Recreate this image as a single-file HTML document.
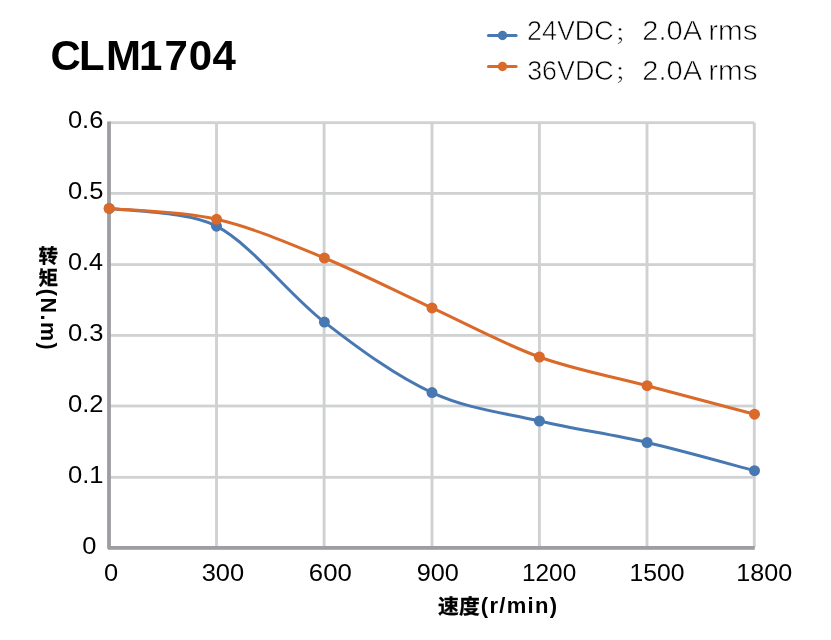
<!DOCTYPE html>
<html><head><meta charset="utf-8"><title>CLM1704</title>
<style>
html,body{margin:0;padding:0;background:#fff;}
svg{display:block;}
text{font-family:"Liberation Sans","Noto Sans CJK SC",sans-serif;fill:#000;}
.b{font-weight:bold;}
.lg2{stroke:#fff;stroke-width:0.3px;}
.cj{stroke:#000;stroke-width:0.3px;}
.lg{stroke:#fff;stroke-width:0.65px;}
</style></head>
<body>
<svg width="831" height="640" viewBox="0 0 831 640">
<rect width="831" height="640" fill="#fff"/>
<rect x="109" y="121.30" width="645.10" height="2.8" fill="#d0d1d2"/>
<rect x="109" y="192.00" width="645.10" height="2.8" fill="#d0d1d2"/>
<rect x="109" y="263.20" width="645.10" height="2.8" fill="#d0d1d2"/>
<rect x="109" y="334.00" width="645.10" height="2.8" fill="#d0d1d2"/>
<rect x="109" y="404.60" width="645.10" height="2.8" fill="#d0d1d2"/>
<rect x="109" y="475.90" width="645.10" height="2.8" fill="#d0d1d2"/>
<rect x="215.05" y="122.6" width="2.9" height="424.7" fill="#d0d1d2"/>
<rect x="322.65" y="122.6" width="2.9" height="424.7" fill="#d0d1d2"/>
<rect x="430.55" y="122.6" width="2.9" height="424.7" fill="#d0d1d2"/>
<rect x="537.95" y="122.6" width="2.9" height="424.7" fill="#d0d1d2"/>
<rect x="645.55" y="122.6" width="2.9" height="424.7" fill="#d0d1d2"/>
<rect x="752.85" y="122.6" width="2.9" height="424.7" fill="#d0d1d2"/>
<rect x="107.1" y="121.5" width="3.8" height="427.3" fill="#9c9ea1"/>
<rect x="108" y="546" width="646.8" height="3.8" fill="#9c9ea1"/>
<path d="M109.20 208.40 C145.00 211.80 192.00 213.20 216.50 226.20 C252.37 245.15 288.48 294.37 324.40 322.10 C360.32 349.83 396.17 376.12 432.00 392.60 C467.83 409.08 503.55 412.68 539.40 421.00 C575.25 429.32 611.25 434.22 647.10 442.50 C682.95 450.78 736.60 466.00 754.50 470.70" fill="none" stroke="#4878b2" stroke-width="3" stroke-linecap="round"/>
<circle cx="109.2" cy="208.4" r="5.5" fill="#4878b2"/>
<circle cx="216.5" cy="226.2" r="5.5" fill="#4878b2"/>
<circle cx="324.4" cy="322.1" r="5.5" fill="#4878b2"/>
<circle cx="432.0" cy="392.6" r="5.5" fill="#4878b2"/>
<circle cx="539.4" cy="421.0" r="5.5" fill="#4878b2"/>
<circle cx="647.1" cy="442.5" r="5.5" fill="#4878b2"/>
<circle cx="754.5" cy="470.7" r="5.5" fill="#4878b2"/>
<path d="M109.20 208.40 C127.10 210.22 180.73 211.03 216.60 219.30 C252.47 227.57 288.50 243.23 324.40 258.00 C360.30 272.77 396.17 291.40 432.00 307.90 C467.83 324.40 503.55 344.03 539.40 357.00 C575.25 369.97 611.25 376.17 647.10 385.70 C682.95 395.23 736.60 409.45 754.50 414.20" fill="none" stroke="#d96a2a" stroke-width="3" stroke-linecap="round"/>
<circle cx="109.2" cy="208.4" r="5.5" fill="#d96a2a"/>
<circle cx="216.6" cy="219.3" r="5.5" fill="#d96a2a"/>
<circle cx="324.4" cy="258.0" r="5.5" fill="#d96a2a"/>
<circle cx="432.0" cy="307.9" r="5.5" fill="#d96a2a"/>
<circle cx="539.4" cy="357.0" r="5.5" fill="#d96a2a"/>
<circle cx="647.1" cy="385.7" r="5.5" fill="#d96a2a"/>
<circle cx="754.5" cy="414.2" r="5.5" fill="#d96a2a"/>
<line x1="488.5" y1="35.5" x2="516.1" y2="35.5" stroke="#4878b2" stroke-width="3.1" stroke-linecap="round"/>
<circle cx="502.5" cy="35.5" r="4.7" fill="#4878b2"/>
<line x1="488.5" y1="66.5" x2="516.1" y2="66.5" stroke="#d96a2a" stroke-width="3.1" stroke-linecap="round"/>
<circle cx="502.5" cy="66.5" r="4.7" fill="#d96a2a"/>
<text class="b" font-size="42" x="50.5 79 106.1 139 164.6 188.7 212.5" y="69.6">CLM1704</text>
<text class="lg" y="40.10" font-size="28.5"><tspan x="527.04" textLength="86.66" lengthAdjust="spacingAndGlyphs">24VDC</tspan><tspan x="613.89" dy="0.5" font-size="20" textLength="25.14" lengthAdjust="spacingAndGlyphs">；</tspan> <tspan x="642.37" dy="-0.5" textLength="58.13" lengthAdjust="spacingAndGlyphs">2.0A</tspan> <tspan x="708.22" textLength="49.49" lengthAdjust="spacingAndGlyphs">rms</tspan></text>
<text class="lg" y="79.90" font-size="28.5"><tspan x="527.15" textLength="86.55" lengthAdjust="spacingAndGlyphs">36VDC</tspan><tspan x="613.89" dy="0.5" font-size="20" textLength="25.14" lengthAdjust="spacingAndGlyphs">；</tspan> <tspan x="642.37" dy="-0.5" textLength="58.13" lengthAdjust="spacingAndGlyphs">2.0A</tspan> <tspan x="708.22" textLength="49.49" lengthAdjust="spacingAndGlyphs">rms</tspan></text>
<text transform="translate(67.89 127.90) scale(1.1112 1)" font-size="23">0.6</text>
<text transform="translate(67.89 198.70) scale(1.1100 1)" font-size="23">0.5</text>
<text transform="translate(67.90 270.00) scale(1.0964 1)" font-size="23">0.4</text>
<text transform="translate(67.89 340.90) scale(1.1123 1)" font-size="23">0.3</text>
<text transform="translate(67.89 411.60) scale(1.1148 1)" font-size="23">0.2</text>
<text transform="translate(67.89 482.80) scale(1.1135 1)" font-size="23">0.1</text>
<text transform="translate(82.29 553.90) scale(1.1075 1)" font-size="23">0</text>
<text transform="translate(103.89 580.60) scale(1.1075 1)" font-size="23">0</text>
<text transform="translate(201.70 580.60) scale(1.1083 1)" font-size="23">300</text>
<text transform="translate(308.81 580.60) scale(1.1213 1)" font-size="23">600</text>
<text transform="translate(416.75 580.60) scale(1.0990 1)" font-size="23">900</text>
<text transform="translate(522.05 580.60) scale(1.0590 1)" font-size="23">1200</text>
<text transform="translate(629.42 580.60) scale(1.0756 1)" font-size="23">1500</text>
<text transform="translate(736.29 580.60) scale(1.0943 1)" font-size="23">1800</text>
<text class="b" y="613.3" font-size="22"><tspan class="cj" x="438.1" dy="1" font-size="20" textLength="41.6" lengthAdjust="spacingAndGlyphs">速度</tspan><tspan x="480.87" dy="-1" letter-spacing="1.3">(r/min)</tspan></text>
<text class="b" style="writing-mode:vertical-rl" font-size="19.5"><tspan class="cj" x="46.8" y="246">转</tspan><tspan class="cj" x="46.8" y="267.4">矩</tspan><tspan x="48.3" y="288.8" font-size="21.5" letter-spacing="1.5">(N.m)</tspan></text>
</svg>
</body></html>
